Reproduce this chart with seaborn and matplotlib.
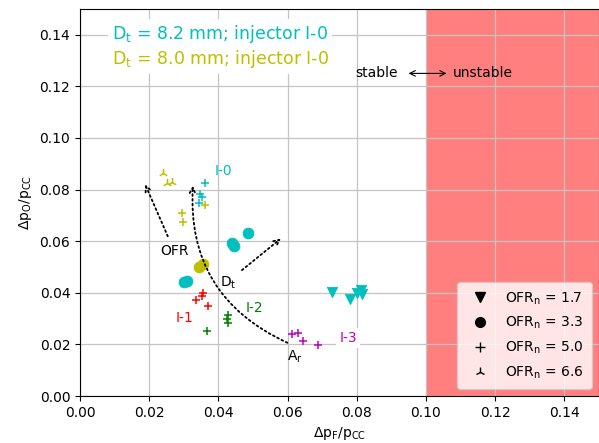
import matplotlib
matplotlib.use("Agg")
import matplotlib.pyplot as plt
import seaborn as sns
import pandas as pd
from matplotlib.lines import Line2D
from matplotlib.patches import FancyArrowPatch

# ---- data ----
# Dt = 8.2 mm, injector I-0 (cyan)
c_tri_x = [0.0728, 0.0780, 0.0800, 0.0812, 0.0815]
c_tri_y = [0.0403, 0.0376, 0.0398, 0.0410, 0.0395]
c_circ_x = [0.0300, 0.0308, 0.0440, 0.0446, 0.0486]
c_circ_y = [0.0443, 0.0446, 0.0592, 0.0582, 0.0632]
c_plus_x = [0.0361, 0.0347, 0.0353, 0.0344]
c_plus_y = [0.0826, 0.0783, 0.0772, 0.0748]
# Dt = 8.0 mm, injector I-0 (yellow)
y_circ_x = [0.0345, 0.0355]
y_circ_y = [0.0500, 0.0512]
y_plus_x = [0.0295, 0.0298, 0.0361]
y_plus_y = [0.0710, 0.0675, 0.0741]
y_tri_x = [0.0240, 0.0251, 0.0266]
y_tri_y = [0.0865, 0.0826, 0.0830]
# Injectors I-1, I-2, I-3 (OFR_n = 5.0)
i1_x = [0.0355, 0.0353, 0.0335, 0.0370]
i1_y = [0.0399, 0.0388, 0.0372, 0.0349]
i2_x = [0.0428, 0.0425, 0.0428, 0.0367]
i2_y = [0.0314, 0.0299, 0.0283, 0.0252]
i3_x = [0.0613, 0.0630, 0.0645, 0.0688]
i3_y = [0.0240, 0.0244, 0.0213, 0.0198]

ofr_labels = ["1.7", "3.3", "5.0", "6.6"]
ofr_markers = ["v", "o", "+", "2"]

fig = plt.figure(figsize=(5.99, 4.43), dpi=100)
ax = fig.add_axes([0.1336, 0.106, 0.866, 0.874])

ax.axvspan(0.10, 0.15, color="red", alpha=0.5, lw=0, zorder=0)
ax.grid(True, color="#c4c4c4", lw=0.9, zorder=1)
ax.set_axisbelow(True)

groups = [
    (c_tri_x, c_tri_y, "c", "v", 55),
    (c_circ_x, c_circ_y, "c", "o", 60),
    (c_plus_x, c_plus_y, "c", "+", 40),
    (y_circ_x, y_circ_y, "y", "o", 60),
    (y_plus_x, y_plus_y, "y", "+", 40),
    (y_tri_x, y_tri_y, "y", "2", 45),
    (i1_x, i1_y, "r", "+", 40),
    (i2_x, i2_y, "g", "+", 40),
    (i3_x, i3_y, "m", "+", 40),
]
for gx, gy, col, mk, s in groups:
    df = pd.DataFrame({"x": gx, "y": gy})
    if mk in ("v", "o"):
        kw = dict(edgecolor=col)
    else:
        kw = dict(linewidth=1.1)
    sns.scatterplot(data=df, x="x", y="y", color=col, marker=mk, s=s,
                    ax=ax, zorder=3, legend=False, **kw)

ax.set_xlim(0, 0.15)
ax.set_ylim(0, 0.15)
ax.set_xticks([0.00, 0.02, 0.04, 0.06, 0.08, 0.10, 0.12, 0.14])
ax.set_yticks([0.00, 0.02, 0.04, 0.06, 0.08, 0.10, 0.12, 0.14])
ax.set_xlabel(r"$\Delta$p$_\mathrm{F}$/p$_\mathrm{CC}$")
ax.set_ylabel(r"$\Delta$p$_\mathrm{O}$/p$_\mathrm{CC}$")

# headings
ax.text(0.0405, 0.1403, r"D$_\mathrm{t}$ = 8.2 mm; injector I-0", color="c",
        fontsize=12.5, ha="center", va="center",
        bbox=dict(facecolor="white", edgecolor="none", pad=3))
ax.text(0.0405, 0.1306, r"D$_\mathrm{t}$ = 8.0 mm; injector I-0", color="y",
        fontsize=12.5, ha="center", va="center",
        bbox=dict(facecolor="white", edgecolor="none", pad=3))

# injector labels
ax.text(0.0416, 0.0872, "I-0", color="c", fontsize=10, ha="center", va="center")
ax.text(0.0303, 0.0302, "I-1", color="r", fontsize=10, ha="center", va="center")
ax.text(0.0503, 0.0341, "I-2", color="g", fontsize=10, ha="center", va="center")
ax.text(0.0775, 0.0225, "I-3", color="m", fontsize=10, ha="center", va="center",
        bbox=dict(facecolor="white", edgecolor="none", pad=2))

# stable / unstable
ax.text(0.0858, 0.1250, "stable", fontsize=10, ha="center", va="center")
ax.text(0.1165, 0.1250, "unstable", fontsize=10, ha="center", va="center")
ax.annotate("", xy=(0.1060, 0.1250), xytext=(0.0950, 0.1250),
            arrowprops=dict(arrowstyle="<->", lw=0.8, color="black",
                            shrinkA=0, shrinkB=0))

# trend arrows
ax.annotate("", xy=(0.0185, 0.0830), xytext=(0.0257, 0.0609),
            arrowprops=dict(arrowstyle="->", ls=":", lw=1.3, color="black"))
ax.text(0.0272, 0.0562, "OFR", fontsize=10, ha="center", va="center")
ax.annotate("", xy=(0.0587, 0.0617), xytext=(0.0462, 0.0481),
            arrowprops=dict(arrowstyle="->", ls=":", lw=1.3, color="black"))
ax.text(0.0428, 0.0438, r"D$_\mathrm{t}$", fontsize=10, ha="center", va="center")
arr = FancyArrowPatch((0.0607, 0.0202), (0.0327, 0.0826),
                      connectionstyle="arc3,rad=-0.35", arrowstyle="->",
                      mutation_scale=10, ls=":", lw=1.3, color="black", zorder=4)
ax.add_patch(arr)
ax.text(0.0621, 0.0151, r"A$_\mathrm{r}$", fontsize=10, ha="center", va="center")

handles = [Line2D([], [], color="black", marker=m, ls="none", markersize=7)
           for m in ofr_markers]
labels = [r"OFR$_\mathrm{n}$ = " + v for v in ofr_labels]
ax.legend(handles, labels, loc="lower right", fontsize=10, borderpad=0.6,
          labelspacing=0.6)

fig.savefig("out.png", dpi=100)
